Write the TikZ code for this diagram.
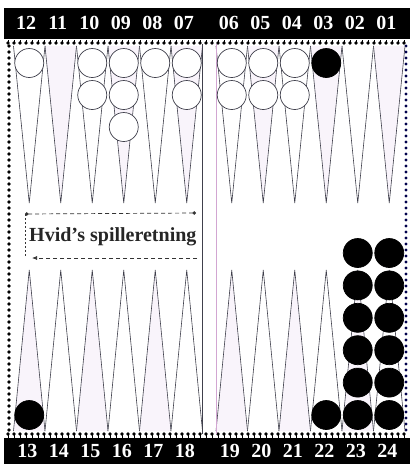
\documentclass[tikz,border=0pt]{standalone}
\usepackage{fontspec}
\setmainfont{Liberation Serif}
\usetikzlibrary{arrows.meta}
\definecolor{tint}{rgb}{0.975,0.955,0.985}
\definecolor{edge}{rgb}{0.25,0.25,0.3}
\tikzset{
  wchk/.style={circle,draw=edge,line width=0.7pt,fill=white,minimum size=29pt,inner sep=0pt},
  bchk/.style={circle,draw=black,line width=0.7pt,fill=black,minimum size=29pt,inner sep=0pt},
  numlbl/.style={text=white,font=\fontsize{20}{20}\selectfont\bfseries,inner sep=0pt},
  pointline/.style={draw=edge,line width=0.6pt},
  borderdot/.style={fill=black},
  guide/.style={line width=0.7pt,dash pattern=on 4pt off 3pt,draw=black!80}
}
\begin{document}
\begin{tikzpicture}[x=1pt,y=-1pt]
\useasboundingbox (0,0) rectangle (410,464);
\fill[white] (0,0) rectangle (410,464);
% bands
\fill[black] (4,8) rectangle (410,39);
\fill[black] (4,438) rectangle (410,464);
% border dots
\foreach \i in {0,...,66} {
  \fill[borderdot] (8+\i*6,43) circle (1.8);
  \fill[borderdot] (8+\i*6,40) rectangle (8.8+\i*6,42);
  \fill[borderdot] (8+\i*6,434) circle (1.8);
  \fill[borderdot] (8+\i*6,435) rectangle (8.8+\i*6,438);
}
\foreach \j in {0,...,64} {
  \fill[borderdot] (9,46+\j*6) circle (1.8);
  \fill[black!70!blue] (406,46+\j*6) circle (1.6);
}
% top points (12 ... 1)
\foreach \n in {1,...,12} {
  \pgfmathsetmacro{\cx}{\n<=6 ? 216+(6-\n+0.5)*31.5 : 13.5+(12-\n+0.5)*31.5}
  \pgfmathsetmacro{\fl}{isodd(\n) ? 1 : 0}
  \ifdim\fl pt>0.5pt \def\pf{tint}\else\def\pf{white}\fi
  \path[pointline,fill=\pf] (\cx-15.75,46) -- (\cx,203) -- (\cx+15.75,46);
}
% bottom points (13 ... 24)
\foreach \n in {13,...,24} {
  \pgfmathsetmacro{\cx}{\n<=18 ? 13.5+(\n-13+0.5)*31.5 : 216+(\n-19+0.5)*31.5}
  \pgfmathsetmacro{\fl}{isodd(\n) ? 1 : 0}
  \ifdim\fl pt>0.5pt \def\pf{tint}\else\def\pf{white}\fi
  \path[pointline,fill=\pf] (\cx-15.75,431) -- (\cx,270) -- (\cx+15.75,431);
}
% bar
\draw[edge,line width=0.8pt] (202,44) -- (202,434);
\draw[violet!35,line width=0.8pt] (216,44) -- (216,434);
% labels top
\foreach \n/\t in {12/12,11/11,10/10,9/09,8/08,7/07,6/06,5/05,4/04,3/03,2/02,1/01} {
  \pgfmathsetmacro{\cx}{\n<=6 ? 216+(6-\n+0.5)*31.5 : 13.5+(12-\n+0.5)*31.5}
  \node[numlbl] (t\n) at (\cx-3,23) {\t};
}
\foreach \n in {13,...,24} {
  \pgfmathsetmacro{\cx}{\n<=18 ? 13.5+(\n-13+0.5)*31.5 : 216+(\n-19+0.5)*31.5}
  \node[numlbl] (b\n) at (\cx-2,451) {\n};
}
% white checkers (top)
\node[wchk] (w12a) at (29.25,63) {};
\node[wchk] (w10a) at (92.25,63) {};
\node[wchk] (w10b) at (92.25,95) {};
\node[wchk] (w9a) at (123.75,63) {};
\node[wchk] (w9b) at (123.75,95) {};
\node[wchk] (w9c) at (123.75,127) {};
\node[wchk] (w8a) at (155.25,63) {};
\node[wchk] (w7a) at (186.75,63) {};
\node[wchk] (w7b) at (186.75,95) {};
\node[wchk] (w6a) at (231.75,63) {};
\node[wchk] (w6b) at (231.75,95) {};
\node[wchk] (w5a) at (263.25,63) {};
\node[wchk] (w5b) at (263.25,95) {};
\node[wchk] (w4a) at (294.75,63) {};
\node[wchk] (w4b) at (294.75,95) {};
% black checkers
\node[bchk] (k3a) at (326.25,63) {};
\node[bchk] (k13a) at (29.25,415) {};
\node[bchk] (k22a) at (326.25,415) {};
\foreach \k in {0,...,5} {
  \node[bchk] (k23\k) at (357.75,415-32.4*\k) {};
  \node[bchk] (k24\k) at (389.25,415-32.4*\k) {};
}
% direction guide
\coordinate (a1) at (196,213);
\coordinate (a2) at (25,214);
\coordinate (a3) at (25,256);
\coordinate (c1) at (197,258);
\coordinate (c2) at (32,258);
\draw[guide,{Circle[length=3.5pt]}-{Circle[length=3.5pt]}] (a2) -- (a1);
\draw[guide,dash pattern=on 2pt off 2pt] (a2) -- (a3);
\draw[guide,-{Latex[length=5pt,width=4pt]}] (c1) -- (c2);
\node[font=\fontsize{20}{20}\selectfont\bfseries,text=black!85,inner sep=0pt,anchor=west] (lbl) at (29,237) {Hvid’s spilleretning};
\end{tikzpicture}
\end{document}
